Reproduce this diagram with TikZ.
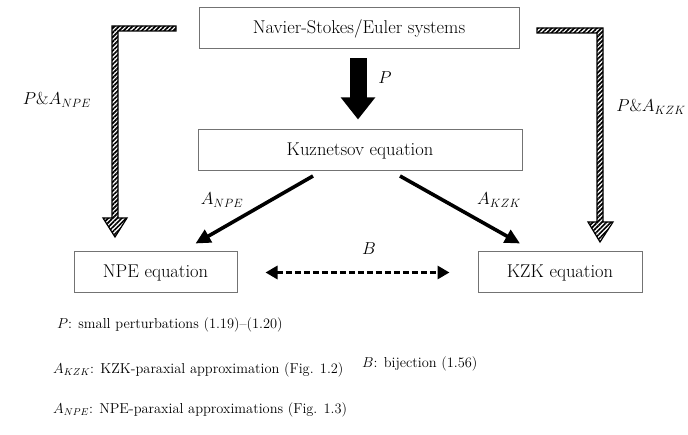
\documentclass[tikz,border=0pt]{standalone}
\usepackage{fontspec}
\usetikzlibrary{arrows.meta,patterns.meta}
\begin{document}
\begin{tikzpicture}[x=1pt,y=-1pt,
  box/.style={draw=black!55,line width=1pt,minimum height=41pt,inner sep=0pt,font=\fontsize{18.5}{22}\selectfont},
  lbl/.style={font=\LARGE,inner sep=0pt},
  txt/.style={font=\Large,inner sep=0pt,anchor=west},
  thin arrow/.style={line width=3.6pt,-{Triangle[length=15pt,width=14pt]}},
  hatch/.style={draw=black,line width=1.2pt,pattern={Lines[angle=45,distance=3.2pt,line width=1.7pt]}}]
\useasboundingbox (0,0) rectangle (688,435);
\node[box,minimum width=320pt] (ns) at (359,28.5) {Navier-Stokes/Euler systems};
\node[box,minimum width=324pt] (kuz) at (360,150.5) {Kuznetsov equation};
\node[box,minimum width=163pt] (npe) at (155.5,272.5) {NPE equation};
\node[box,minimum width=164pt] (kzk) at (560,272.5) {KZK equation};
% big arrow P
\draw[line width=17pt,-{Triangle[length=22pt,width=33pt]}] ([xshift=-1pt,yshift=-9pt]ns.south) -- ([xshift=-2pt,yshift=10pt]kuz.north);
\node[lbl] (p) at (385,78) {$P$};
% approximations
\coordinate (ka) at (313,176);
\coordinate (kb) at (400,176);
\draw[thin arrow] (ka) -- ([xshift=40pt,yshift=8pt]npe.north);
\draw[thin arrow] (kb) -- ([xshift=-40pt,yshift=8pt]kzk.north);
\node[lbl] (anpe) at (222,200) {$A_{NPE}$};
\node[lbl] (akzk) at (499,200) {$A_{KZK}$};
% bijection
\draw[line width=3pt,dash pattern=on 6pt off 3pt,{Triangle[length=12pt,width=13pt]}-{Triangle[length=12pt,width=13pt]}] ([xshift=28pt]npe.east) -- ([xshift=-28pt]kzk.west);
\node[lbl] (b) at (369,249) {$B$};
% hatched arrows
\path[hatch] (176,26) -- (112,26) -- (112,218) -- (103,218) -- (115,237) -- (127,218) -- (118,218) -- (118,31) -- (176,31) -- cycle;
\path[hatch] (537,28) -- (603,28) -- (603,222) -- (613,222) -- (600,242) -- (588,222) -- (597,222) -- (597,33) -- (537,33) -- cycle;
\node[lbl] (pnpe) at (57,100) {$P\&A_{NPE}$};
\node[lbl] (pkzk) at (651,107) {$P\&A_{KZK}$};
% legend
\node[txt] (l1) at (57,325) {$P$: small perturbations (1.19)--(1.20)};
\node[txt] (l2) at (53,370) {$A_{KZK}$: KZK-paraxial approximation (Fig. 1.2)};
\node[txt] (l3) at (362,364) {$B$: bijection (1.56)};
\node[txt] (l4) at (53,410) {$A_{NPE}$: NPE-paraxial approximations (Fig. 1.3)};
\end{tikzpicture}
\end{document}
